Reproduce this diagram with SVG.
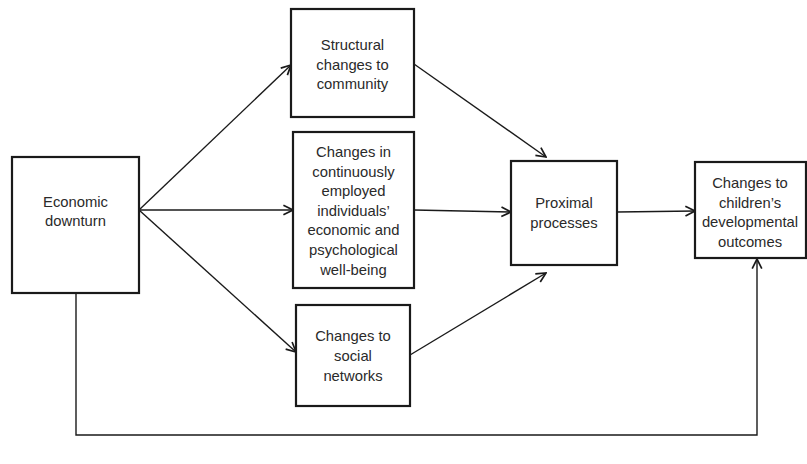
<svg xmlns="http://www.w3.org/2000/svg" width="807" height="464" viewBox="0 0 807 464">
  <defs>
    <marker id="arrow" markerUnits="userSpaceOnUse" markerWidth="12" markerHeight="12" viewBox="0 0 10 10" refX="9" refY="5" orient="auto">
      <path d="M1,1 L9,5 L1,9" fill="none" stroke="#1a1a1a" stroke-width="1.4"/>
    </marker>
    <style>
      .box { fill: #ffffff; stroke: #1a1a1a; stroke-width: 2.2; }
      .lbl { font-family: "Liberation Sans", Arial, sans-serif; font-size: 14.8px; fill: #2a2a2a; text-anchor: middle; }
      .edge { fill: none; stroke: #1a1a1a; stroke-width: 1.4; }
    </style>
  </defs>
  <rect width="807" height="464" fill="#ffffff"/>

  <g id="connectors">
    <path class="edge" d="M139,210 L291,65" marker-end="url(#arrow)"/>
    <path class="edge" d="M139,210 L293,210" marker-end="url(#arrow)"/>
    <path class="edge" d="M139,210 L296,352" marker-end="url(#arrow)"/>
    <path class="edge" d="M414,64 L546,157" marker-end="url(#arrow)"/>
    <path class="edge" d="M414,210 L511,212" marker-end="url(#arrow)"/>
    <path class="edge" d="M410,355 L546,273" marker-end="url(#arrow)"/>
    <path class="edge" d="M617,212 L695,211" marker-end="url(#arrow)"/>
    <path class="edge" d="M76,293 L76,435 L757,435 L757,259" marker-end="url(#arrow)"/>
  </g>

  <g id="economic-downturn">
    <rect class="box" x="12" y="157" width="127" height="136"/>
    <text class="lbl" x="75.5" y="207">Economic</text>
    <text class="lbl" x="75.5" y="226">downturn</text>
  </g>

  <g id="structural-changes">
    <rect class="box" x="291" y="9" width="123" height="108"/>
    <text class="lbl" x="352.5" y="50">Structural</text>
    <text class="lbl" x="352.5" y="69.5">changes to</text>
    <text class="lbl" x="352.5" y="89">community</text>
  </g>

  <g id="employed-wellbeing">
    <rect class="box" x="293" y="132" width="121" height="156"/>
    <text class="lbl" x="353.5" y="157">Changes in</text>
    <text class="lbl" x="353.5" y="176.6">continuously</text>
    <text class="lbl" x="353.5" y="196.2">employed</text>
    <text class="lbl" x="353.5" y="215.8">individuals’</text>
    <text class="lbl" x="353.5" y="235.4">economic and</text>
    <text class="lbl" x="353.5" y="255">psychological</text>
    <text class="lbl" x="353.5" y="274.6">well-being</text>
  </g>

  <g id="social-networks">
    <rect class="box" x="296" y="305" width="114" height="101"/>
    <text class="lbl" x="353" y="341">Changes to</text>
    <text class="lbl" x="353" y="361">social</text>
    <text class="lbl" x="353" y="381">networks</text>
  </g>

  <g id="proximal-processes">
    <rect class="box" x="511" y="161" width="106" height="104"/>
    <text class="lbl" x="564" y="208">Proximal</text>
    <text class="lbl" x="564" y="228">processes</text>
  </g>

  <g id="developmental-outcomes">
    <rect class="box" x="695" y="162" width="111" height="96"/>
    <text class="lbl" x="750" y="188">Changes to</text>
    <text class="lbl" x="750" y="207.5">children’s</text>
    <text class="lbl" x="750" y="227">developmental</text>
    <text class="lbl" x="750" y="246.5">outcomes</text>
  </g>
</svg>
